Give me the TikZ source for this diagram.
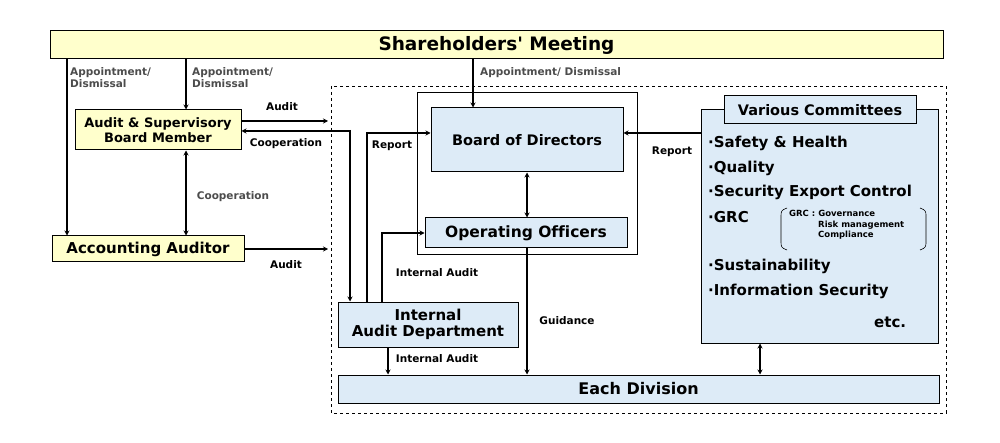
\documentclass[tikz,border=0pt]{standalone}
\usepackage{fontspec}
\setmainfont{DejaVu Sans}[Ligatures=NoCommon]
\usetikzlibrary{arrows.meta}
\definecolor{ylw}{HTML}{FFFFCC}
\definecolor{lblue}{HTML}{DDEBF7}
\begin{document}
\begin{tikzpicture}[x=1pt,y=-1pt,
  box/.style={draw,line width=1pt,inner sep=0pt,align=center,font=\bfseries},
  ybox/.style={box,fill=ylw},
  bbox/.style={box,fill=lblue},
  arr/.style={line width=1.5pt,-{Stealth[length=5pt,width=5pt]}},
  darr/.style={line width=1.5pt,{Stealth[length=5pt,width=5pt]}-{Stealth[length=5pt,width=5pt]}},
  lbl/.style={font=\bfseries\fontsize{10.5}{12}\selectfont,inner sep=0pt,align=left},
  glbl/.style={lbl,text=black!70},
  item/.style={font=\bfseries\fontsize{15}{17}\selectfont,inner sep=0pt,anchor=west}]
\useasboundingbox (0,0) rectangle (1000,443);
\draw[dashed,line width=0.8pt] (331,86) rectangle (946,413);
\node[ybox,minimum width=893,minimum height=28,font=\bfseries\fontsize{18.5}{21}\selectfont] (sh) at (496.5,45) {Shareholders\textquotesingle{} Meeting};
\node[ybox,minimum width=166,minimum height=40,font=\bfseries\fontsize{13}{15}\selectfont] (as) at (158,130) {Audit \& Supervisory\\Board Member};
\node[ybox,minimum width=192,minimum height=26,font=\bfseries\fontsize{15}{17}\selectfont] (aa) at (148,249) {Accounting Auditor};
\node[draw,line width=1pt,minimum width=220,minimum height=162] (grp) at (527,174) {};
\node[bbox,minimum width=192,minimum height=64,font=\bfseries\fontsize{14.5}{17}\selectfont] (bod) at (527,140) {Board of Directors};
\node[bbox,minimum width=202,minimum height=30,font=\bfseries\fontsize{15.5}{18}\selectfont] (oo) at (526,233) {Operating Officers};
\node[bbox,minimum width=237,minimum height=233] (vc) at (819.5,226.5) {};
\node[bbox,minimum width=192,minimum height=28,font=\bfseries\fontsize{14.5}{17}\selectfont] (vct) at (820,110) {Various Committees};
\node[bbox,minimum width=180,minimum height=45,font=\bfseries\fontsize{15}{16}\selectfont] (iad) at (428,324.5) {Internal\\Audit Department};
\node[bbox,minimum width=601,minimum height=28,font=\bfseries\fontsize{16}{18}\selectfont] (ed) at (638.5,389) {Each Division};
% committee items
\node[item] (i1) at (708,143) {·Safety \& Health};
\node[item] (i2) at (708,168) {·Quality};
\node[item] (i3) at (708,192) {·Security Export Control};
\node[item] (i4) at (708,217) {·GRC};
\node[item] (i5) at (708,266) {·Sustainability};
\node[item] (i6) at (708,291) {·Information Security};
\node[item] (i7) at (874,322) {etc.};
\node[font=\bfseries\fontsize{8.5}{10.5}\selectfont,inner sep=0pt,anchor=north west,align=left] (grc) at (789,210) {GRC : Governance\\\hspace{29pt}Risk management\\\hspace{29pt}Compliance};
\draw[line width=0.6pt] (787,208) .. controls (781,210) and (781,212) .. (781,216) -- (781,242) .. controls (781,246) and (781,248) .. (787,250);
\draw[line width=0.6pt] (920,208) .. controls (926,210) and (926,212) .. (926,216) -- (926,242) .. controls (926,246) and (926,248) .. (920,250);
% coordinates
\coordinate (d1) at (328,121);
\coordinate (d2) at (328,249);
% arrows
\draw[arr] (sh.south -| 67,0) -- (aa.north -| 67,0);
\draw[arr] (sh.south -| 186,0) -- (as.north -| 186,0);
\draw[arr] (sh.south -| 473,0) -- (bod.north -| 473,0);
\draw[arr] (as.east |- d1) -- (d1);
\draw[arr] (aa.east |- d2) -- (d2);
\draw[arr] (350,131) -- (as.east |- 0,131);
\draw[arr] (350,130) -- (iad.north -| 350,0);
\draw[darr] (as.south -| 186,0) -- (aa.north -| 186,0);
\draw[arr] (iad.north -| 367,0) -- (367,133) -- (bod.west |- 0,133);
\draw[arr] (iad.north -| 382,0) -- (382,233) -- (oo.west);
\draw[arr] (iad.south -| 388,0) -- (ed.north -| 388,0);
\draw[darr] (bod.south) -- (oo.north -| bod.south);
\draw[arr] (oo.south -| 527,0) -- (ed.north -| 527,0);
\draw[arr] (vc.west |- 0,133) -- (bod.east |- 0,133);
\draw[darr] (vc.south -| 760,0) -- (ed.north -| 760,0);
% labels
\node[glbl,anchor=north west] (l1) at (70,67) {Appointment/\\Dismissal};
\node[glbl,anchor=north west] (l2) at (192,67) {Appointment/\\Dismissal};
\node[glbl,anchor=north west] (l3) at (480,67) {Appointment/ Dismissal};
\node[lbl] (l4) at (282,107) {Audit};
\node[lbl] (l5) at (286,144) {Cooperation};
\node[glbl] (l6) at (233,197) {Cooperation};
\node[lbl] (l7) at (286,265) {Audit};
\node[lbl] (l8) at (392,146) {Report};
\node[lbl] (l9) at (437,273) {Internal Audit};
\node[lbl] (l10) at (437,359) {Internal Audit};
\node[lbl] (l11) at (567,321) {Guidance};
\node[lbl] (l12) at (672,152) {Report};
\end{tikzpicture}
\end{document}
